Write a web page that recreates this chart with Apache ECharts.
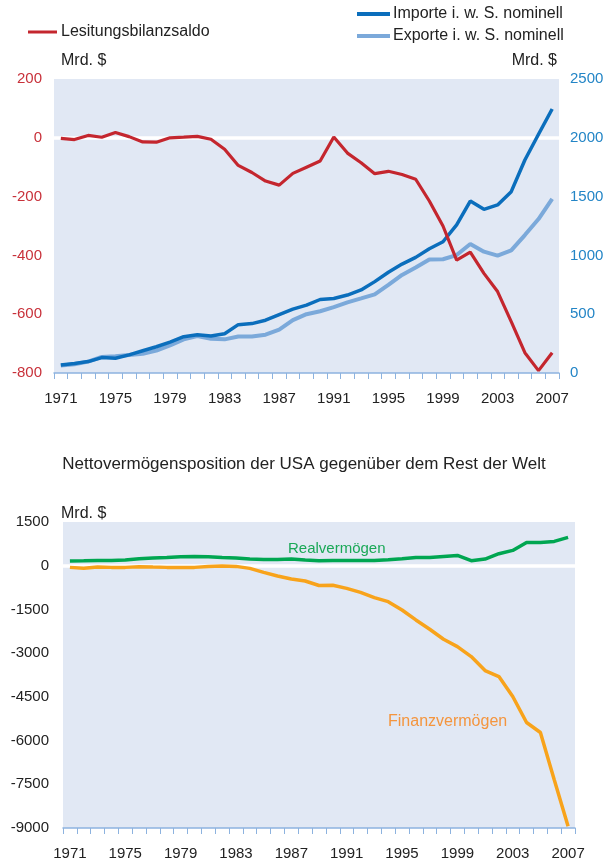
<!DOCTYPE html>
<html lang="de" style="height: 100%">
<head>
  <meta charset="utf-8">
</head>
<body style="height: 100%; margin: 0; background: #fff">
  <div id="container" style="width: 608px; height: 861px"></div>

  <script type="text/javascript" src="https://cdn.jsdelivr.net/npm/echarts@6/dist/echarts.min.js"></script>

  <script type="text/javascript">
    var dom = document.getElementById('container');
    var myChart = echarts.init(dom, null, { renderer: 'canvas' });

    const years = ['1971', '1972', '1973', '1974', '1975', '1976', '1977', '1978', '1979', '1980',
      '1981', '1982', '1983', '1984', '1985', '1986', '1987', '1988', '1989', '1990',
      '1991', '1992', '1993', '1994', '1995', '1996', '1997', '1998', '1999', '2000',
      '2001', '2002', '2003', '2004', '2005', '2006', '2007'];

    // Mrd. $, linke Achse
    const leistungsbilanz = [-2, -6, 8, 2, 18, 4, -14, -15, 0, 2,
      5, -5, -39, -94, -118, -147, -161, -121, -100, -79,
      3, -52, -85, -122, -114, -125, -141, -215, -300, -416,
      -389, -461, -523, -625, -731, -792, -731];

    // Mrd. $, rechte Achse
    const importe = [69, 80, 97, 131, 126, 154, 189, 223, 263, 309,
      326, 314, 334, 411, 420, 449, 497, 543, 577, 625,
      634, 663, 706, 777, 857, 926, 983, 1057, 1116, 1260,
      1462, 1392, 1429, 1542, 1811, 2030, 2245];
    const exporte = [63, 74, 97, 137, 143, 154, 163, 191, 234, 286,
      314, 291, 286, 311, 311, 326, 369, 449, 500, 525,
      560, 600, 634, 669, 749, 834, 897, 965, 967, 1003,
      1097, 1032, 998, 1043, 1173, 1309, 1480];

    // Nettovermögensposition, Mrd. $
    const realvermoegen = [160, 171, 183, 183, 194, 240, 263, 285, 308, 320,
      308, 285, 263, 228, 217, 217, 228, 194, 171, 183,
      183, 183, 183, 206, 240, 285, 285, 320, 354, 171,
      228, 411, 525, 800, 800, 834, 971];
    const finanzvermoegen = [-57, -91, -46, -57, -57, -34, -46, -57, -57, -57,
      -23, -11, -23, -91, -228, -354, -457, -525, -680, -670,
      -777, -914, -1096, -1233, -1519, -1861, -2181, -2524, -2775, -3118,
      -3597, -3803, -4488, -5379, -5722, -7344, -8943];

    const FONT = "'Liberation Sans', Arial, sans-serif";
    const AXIS_BLUE = '#8db3df';
    const RED = '#c4262e';
    const DARK_BLUE = '#0b6ebc';
    const LIGHT_BLUE = '#7ba9da';
    const GREEN = '#00a651';
    const ORANGE = '#f8a31b';
    const NONE = 'rgba(0,0,0,0)';
    const plain = (v) => String(v);

    const xAxisBase = (gridIndex) => ({
      type: 'category',
      gridIndex,
      data: years,
      boundaryGap: true,
      axisLine: { onZero: false, lineStyle: { color: AXIS_BLUE, width: 1.5 } },
      axisTick: { show: true, interval: 0, length: 6, lineStyle: { color: AXIS_BLUE, width: 1 } },
      axisLabel: { interval: 3, color: '#222', fontSize: 15, fontFamily: FONT, margin: 18 },
      splitLine: { show: false }
    });

    var option = {
      animation: false,
      backgroundColor: '#fff',
      textStyle: { fontFamily: FONT },
      title: {
        text: 'Nettovermögensposition der USA gegenüber dem Rest der Welt',
        left: 'center',
        top: 451,
        textStyle: { fontFamily: FONT, fontWeight: 'normal', fontSize: 17, color: '#222' }
      },
      legend: [
        {
          data: ['Lesitungsbilanzsaldo'],
          left: 28,
          top: 24,
          padding: 0,
          icon: 'rect',
          itemWidth: 29,
          itemHeight: 3,
          textStyle: { fontFamily: FONT, fontSize: 16, color: '#222', padding: [0, 0, 0, -1] }
        },
        {
          data: ['Importe i. w. S. nominell', 'Exporte i. w. S. nominell'],
          orient: 'vertical',
          left: 357,
          top: 6,
          padding: 0,
          itemGap: 6,
          icon: 'rect',
          itemWidth: 33,
          itemHeight: 4,
          textStyle: { fontFamily: FONT, fontSize: 16, color: '#222', padding: [0, 0, 0, -2] }
        }
      ],
      grid: [
        { left: 54, top: 79, width: 505, height: 294, show: true, backgroundColor: '#e1e8f4', borderWidth: 0 },
        { left: 63, top: 522, width: 512, height: 306, show: true, backgroundColor: '#e1e8f4', borderWidth: 0 }
      ],
      xAxis: [xAxisBase(0), xAxisBase(1)],
      yAxis: [
        {
          type: 'value',
          gridIndex: 0,
          min: -800,
          max: 200,
          interval: 200,
          name: 'Mrd. $',
          nameLocation: 'end',
          nameGap: 10,
          nameTextStyle: { align: 'left', fontSize: 16, color: '#222', fontFamily: FONT, padding: [0, 0, 0, 7] },
          axisLine: { show: false },
          axisTick: { show: false },
          axisLabel: { color: '#c8313a', fontSize: 15, fontFamily: FONT, margin: 12, formatter: plain },
          splitLine: {
            show: true,
            lineStyle: { width: 3.5, color: [NONE, NONE, NONE, NONE, '#ffffff', NONE] }
          }
        },
        {
          type: 'value',
          gridIndex: 0,
          position: 'right',
          min: 0,
          max: 2500,
          interval: 500,
          name: 'Mrd. $',
          nameLocation: 'end',
          nameGap: 10,
          nameTextStyle: { align: 'right', fontSize: 16, color: '#222', fontFamily: FONT, padding: [0, 2, 0, 0] },
          axisLine: { show: false },
          axisTick: { show: false },
          axisLabel: { color: '#2385c6', fontSize: 15, fontFamily: FONT, margin: 11, formatter: plain },
          splitLine: { show: false }
        },
        {
          type: 'value',
          gridIndex: 1,
          min: -9000,
          max: 1500,
          interval: 1500,
          name: 'Mrd. $',
          nameLocation: 'end',
          nameGap: 0,
          nameTextStyle: { align: 'left', fontSize: 16, color: '#222', fontFamily: FONT, padding: [0, 0, 0, -2] },
          axisLine: { show: false },
          axisTick: { show: false },
          axisLabel: { color: '#222', fontSize: 15, fontFamily: FONT, margin: 14, formatter: plain },
          splitLine: {
            show: true,
            lineStyle: { width: 3.5, color: [NONE, NONE, NONE, NONE, NONE, NONE, '#ffffff', NONE] }
          }
        }
      ],
      graphic: [
        {
          type: 'text',
          left: 288,
          top: 541,
          style: { text: 'Realvermögen', fill: '#1aa857', font: '15px ' + FONT }
        },
        {
          type: 'text',
          left: 388,
          top: 714,
          style: { text: 'Finanzvermögen', fill: '#f4953e', font: '16px ' + FONT }
        }
      ],
      series: [
        {
          name: 'Exporte i. w. S. nominell',
          type: 'line',
          xAxisIndex: 0,
          yAxisIndex: 1,
          data: exporte,
          showSymbol: false,
          color: LIGHT_BLUE,
          lineStyle: { width: 4, color: LIGHT_BLUE }
        },
        {
          name: 'Importe i. w. S. nominell',
          type: 'line',
          xAxisIndex: 0,
          yAxisIndex: 1,
          data: importe,
          showSymbol: false,
          color: DARK_BLUE,
          lineStyle: { width: 3.5, color: DARK_BLUE }
        },
        {
          name: 'Lesitungsbilanzsaldo',
          type: 'line',
          xAxisIndex: 0,
          yAxisIndex: 0,
          data: leistungsbilanz,
          showSymbol: false,
          color: RED,
          lineStyle: { width: 3.2, color: RED }
        },
        {
          name: 'Realvermögen',
          type: 'line',
          xAxisIndex: 1,
          yAxisIndex: 2,
          data: realvermoegen,
          showSymbol: false,
          color: GREEN,
          lineStyle: { width: 3.5, color: GREEN }
        },
        {
          name: 'Finanzvermögen',
          type: 'line',
          xAxisIndex: 1,
          yAxisIndex: 2,
          data: finanzvermoegen,
          showSymbol: false,
          color: ORANGE,
          lineStyle: { width: 3.5, color: ORANGE }
        }
      ]
    };

    myChart.setOption(option);
    window.addEventListener('resize', myChart.resize);
  </script>
</body>
</html>
